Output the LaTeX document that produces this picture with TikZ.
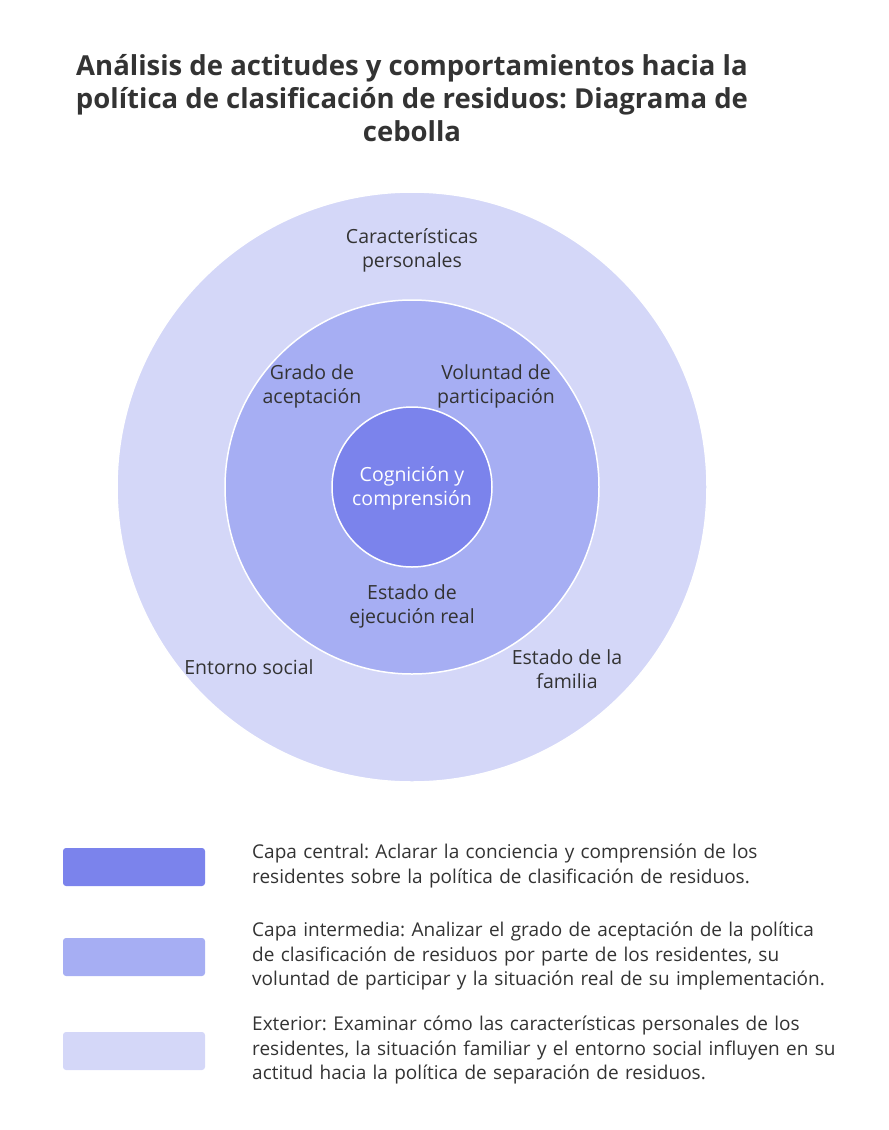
\documentclass[tikz,border=0pt]{standalone}
\usepackage{fontspec}
\setmainfont{Open Sans}
\frenchspacing
\definecolor{outerc}{HTML}{D4D7F8}
\definecolor{midc}{HTML}{A6AEF3}
\definecolor{innc}{HTML}{7B83EC}
\definecolor{txt}{HTML}{333333}
\begin{document}
\begin{tikzpicture}[x=1pt,y=-1pt,
  lab/.style={font=\fontsize{19.5}{24}\selectfont,text=txt,align=center},
  leg/.style={font=\fontsize{19}{24.5}\selectfont,text=txt,align=left,anchor=north west,text width=630pt,inner sep=0pt},
  sw/.style={rounded corners=3pt,minimum width=142pt,minimum height=38pt,inner sep=0pt,draw=none}]
\useasboundingbox (0,0) rectangle (889,1130);
\node[font=\bfseries\fontsize{27.5}{33}\selectfont,text=txt,align=center] (title) at (412,98)
 {Análisis de actitudes y comportamientos hacia la\\política de clasificación de residuos: Diagrama de\\cebolla};
\node[circle,fill=outerc,draw=white,line width=1.5pt,minimum size=590pt,inner sep=0pt] (outer) at (412,487) {};
\node[circle,fill=midc,draw=white,line width=1.5pt,minimum size=374pt,inner sep=0pt] (mid) at (412,487) {};
\node[circle,fill=innc,draw=white,line width=1.5pt,minimum size=160pt,inner sep=0pt] (inn) at (412,487) {};
\node[lab,text=white] (c) at (412,488) {Cognición y\\comprensión};
\node[lab] (l1) at (412,250) {Características\\personales};
\node[lab] (l2) at (312,386) {Grado de\\aceptación};
\node[lab] (l3) at (496,386) {Voluntad de\\participación};
\node[lab] (l4) at (412,606) {Estado de\\ejecución real};
\node[lab] (l5) at (249,667) {Entorno social};
\node[lab] (l6) at (567,669) {Estado de la\\familia};
\node[sw,fill=innc] (s1) at (134,867) {};
\node[sw,fill=midc] (s2) at (134,957) {};
\node[sw,fill=outerc] (s3) at (134,1051) {};
\node[leg] (t1) at (252,844) {Capa central: Aclarar la conciencia y comprensión de los\\residentes sobre la política de clasificación de residuos.};
\node[leg] (t2) at (252,922) {Capa intermedia: Analizar el grado de aceptación de la política\\de clasificación de residuos por parte de los residentes, su\\voluntad de participar y la situación real de su implementación.};
\node[leg] (t3) at (252,1016) {Exterior: Examinar cómo las características personales de los\\residentes, la situación familiar y el entorno social influyen en su\\actitud hacia la política de separación de residuos.};
\end{tikzpicture}
\end{document}
